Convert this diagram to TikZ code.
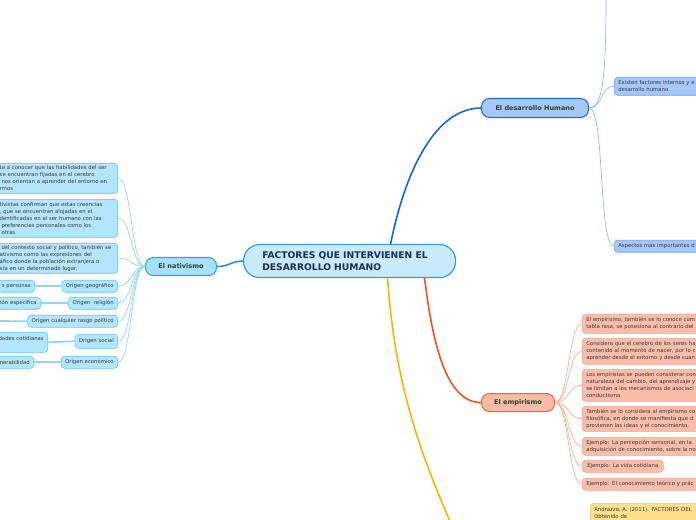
\documentclass[tikz,border=0pt]{standalone}
\usepackage{fontspec}
\setmainfont{DejaVu Sans}

\definecolor{cenfill}{HTML}{C8EAFB}
\definecolor{cendraw}{HTML}{3C9BD6}
\definecolor{centext}{HTML}{1B2C58}
\definecolor{brtext}{HTML}{1C4A3A}
\definecolor{leaftext}{HTML}{3A3A3A}
\definecolor{dhfill}{HTML}{A7C8F9}
\definecolor{dhdraw}{HTML}{1E6DD5}
\definecolor{dhline}{HTML}{1565D8}
\definecolor{dhleaffill}{HTML}{A5C7FA}
\definecolor{dhleafdraw}{HTML}{6EA2EF}
\definecolor{dhthin}{HTML}{90B8F3}
\definecolor{empfill}{HTML}{F8BBA5}
\definecolor{empdraw}{HTML}{F2663A}
\definecolor{empline}{HTML}{F4511E}
\definecolor{empleaffill}{HTML}{F9BDA9}
\definecolor{empleafdraw}{HTML}{F5A183}
\definecolor{empthin}{HTML}{F9AE93}
\definecolor{natfill}{HTML}{A9E1FA}
\definecolor{natdraw}{HTML}{2BA6E0}
\definecolor{natline}{HTML}{2891D8}
\definecolor{natleaffill}{HTML}{B3E5FC}
\definecolor{natleafdraw}{HTML}{62C4F0}
\definecolor{natthin}{HTML}{8FD6F5}
\definecolor{yline}{HTML}{FFB300}
\definecolor{yfill}{HTML}{FFE08A}
\definecolor{ydraw}{HTML}{F3CD5B}

\tikzset{
  central/.style={draw=cendraw, fill=cenfill, line width=0.9pt, rounded corners=12pt,
    anchor=north west, text width=131pt, inner xsep=14pt, inner ysep=0pt,
    minimum height=24.75pt, align=left, text=centext,
    font=\fontsize{6.9pt}{9pt}\selectfont\bfseries},
  branch/.style={rounded corners=6pt, line width=0.8pt, anchor=north west,
    minimum height=13.5pt, inner sep=0pt, text=brtext,
    font=\fontsize{4.9pt}{6pt}\selectfont\bfseries},
  leaf/.style={rounded corners=2.5pt, line width=0.4pt, align=left,
    inner xsep=3pt, inner ysep=0pt, text=leaftext,
    font=\fontsize{4pt}{5.2pt}\selectfont},
  dhleaf/.style={leaf, anchor=north west, fill=dhleaffill, draw=dhleafdraw},
  empleaf/.style={leaf, anchor=north west, fill=empleaffill, draw=empleafdraw},
  natleaf/.style={leaf, anchor=north east, fill=natleaffill, draw=natleafdraw},
  yleaf/.style={leaf, anchor=north west, fill=yfill, draw=ydraw},
  dhthinline/.style={draw=dhthin, line width=0.5pt},
  empthinline/.style={draw=empthin, line width=0.5pt},
  natthinline/.style={draw=natthin, line width=0.5pt},
  natstraight/.style={draw=natthin, line width=1.3pt}
}

\begin{document}
\begin{tikzpicture}[x=0.75pt,y=-0.75pt]
\useasboundingbox (0,0) rectangle (696,520);
\clip (0,0) rectangle (696,520);
\fill[white] (0,0) rectangle (696,520);

% central topic
\node[central] (cen) at (243,244) {FACTORES QUE INTERVIENEN EL\\DESARROLLO HUMANO};

% main branches
\node[branch, fill=dhfill, draw=dhdraw, minimum width=80.25pt, minimum height=14.25pt] (dh) at (481,98) {El desarrollo Humano};
\node[branch, fill=empfill, draw=empdraw, minimum width=54.75pt] (emp) at (481,393) {El empirismo};
\node[branch, fill=natfill, draw=natdraw, minimum width=53.25pt] (nat) at (145,257) {El nativismo};
\coordinate (ybr) at (458,540);

\draw[dhline, line width=1.2pt] ([xshift=30.75pt]cen.north) .. controls +(15,-75) and +(-45,0) .. (dh.west);
\draw[empline, line width=1.2pt] ([xshift=56.25pt]cen.south) .. controls +(8,65) and +(-35,0) .. (emp.west);
\draw[yline, line width=1.2pt] ([xshift=28.5pt]cen.south) .. controls +(8,120) and +(-30,-70) .. (ybr);
\draw[natline, line width=1.2pt] (cen.west) .. controls +(-12,0) and +(12,0) .. (nat.east);

% El desarrollo Humano
\coordinate (dtop) at (606,-5);
\node[dhleaf, text width=150pt, minimum height=13.5pt] (d1) at (614,77) {Existen factores internos y e\\desarrollo humano};
\node[dhleaf, text width=150pt, minimum height=9pt] (d2) at (614,240) {Aspectos más importantes d};

\draw[dhthinline] (dh.east) .. controls +(14,0) and +(0,80) .. (dtop);
\draw[dhthinline] (dh.east) .. controls +(14,0) and +(-14,0) .. (d1.west);
\draw[dhthinline] (dh.east) .. controls +(16,0) and +(-16,0) .. (d2.west);

% El empirismo
\node[empleaf, text width=150pt, minimum height=14.25pt] (e1) at (582,314) {El empirismo, también se lo conoce com\\tabla rasa, se posesiona al contrario del};
\node[empleaf, text width=150pt, minimum height=19.5pt] (e2) at (582,338) {Considera que el cerebro de los seres ha\\contenido al momento de nacer, por lo c\\aprender desde el entorno y desde cuan};
\node[empleaf, text width=150pt, minimum height=24pt] (e3) at (582,369) {Los empiristas se pueden considerar con\\naturaleza del cambio, del aprendizaje y\\se limitan a los mecanismos de asociaci\\conductismo.};
\node[empleaf, text width=150pt, minimum height=18.75pt] (e4) at (582,406) {También se lo considera al empirismo co\\filosófica, en donde se manifiesta que d\\provienen las ideas y el conocimiento.};
\node[empleaf, text width=150pt, minimum height=13.5pt] (e5) at (582,437) {Ejemplo: La percepción sensorial, en la\\adquisición de conocimiento, sobre la no};
\node[empleaf, minimum width=60.75pt, minimum height=9pt] (e6) at (582,460) {Ejemplo: La vida cotidiana};
\node[empleaf, text width=150pt, minimum height=9pt] (e7) at (582,478) {Ejemplo: El conocimiento teórico y prác};

\foreach \n in {e1,e2,e3,e4,e5,e6,e7}
  \draw[empthinline] (emp.east) .. controls +(14,0) and +(-14,0) .. (\n.west);

% referencia
\node[yleaf, text width=150pt, minimum height=14pt] (ref) at (590,503) {Andrazzo, A. (2011). FACTORES DEL\\Obtenido de};

% El nativismo
\node[natleaf, text width=86pt, inner xsep=2.5pt, minimum height=22.5pt] (n1) at (118,163) {ta a conocer que las habilidades del ser\\se encuentran fijadas en el cerebro\\\ nos orientan a aprender del entorno en\\rmos};
\node[natleaf, text width=86pt, inner xsep=2.5pt, minimum height=28.5pt] (n2) at (118,199) {tivistas confirman que estas creencias\\, que se encuentran alojadas en el\\dentificadas en el ser humano con las\\\ preferencias personales como los\\\ otras};
\node[natleaf, text width=86pt, inner xsep=2.5pt, minimum height=22.5pt] (n3) at (118,243) {\ del contexto social y político, también se\\ativismo como las expresiones del\\áfico donde la población extranjera o\\sta en un determinado lugar.};
\node[natleaf, minimum height=9pt] (o1) at (118,280) {Origen geográfico};
\node[natleaf, minimum height=9pt] (o2) at (118,297) {Origen\ \ religión};
\node[natleaf, minimum height=9pt] (o3) at (118,315) {Origen cualquier rasgo político};
\node[natleaf, minimum height=10.5pt] (o4) at (118,334) {Origen social};
\node[natleaf, minimum height=9pt] (o5) at (118,356) {Origen económico};

\node[natleaf, minimum height=9pt] (l1) at (35,280) {s personas};
\node[natleaf, minimum height=9pt] (l2) at (41,297) {ión especifica};
\coordinate (l3) at (-5,321);
\node[natleaf, minimum height=15pt] (l4) at (48,332) {dades cotidianas\\\mbox{}};
\node[natleaf, minimum height=9pt] (l5) at (34,356) {nerabilidad};

\foreach \n in {n1,n2,n3,o1,o2,o3,o4,o5}
  \draw[natthinline] (nat.west) .. controls +(-14,0) and +(14,0) .. (\n.east);

\draw[natstraight] (o1.west) -- (l1.east);
\draw[natstraight] (o2.west) -- (l2.east);
\draw[natstraight] (o3.west) -- (l3);
\draw[natstraight] (o4.west) -- (l4.east);
\draw[natstraight] (o5.west) -- (l5.east);
\end{tikzpicture}
\end{document}
